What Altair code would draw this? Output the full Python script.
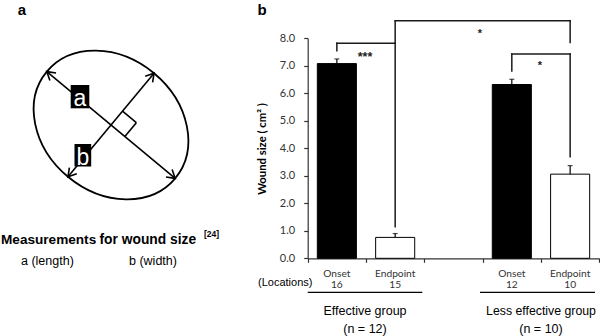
import math
import altair as alt
import pandas as pd

# ---------------- data (panel b) ----------------
categories = ["Onset (E)", "Endpoint (E)", "gap", "Onset (L)", "Endpoint (L)"]
bar_cats = ["Onset (E)", "Endpoint (E)", "Onset (L)", "Endpoint (L)"]
bar_kind = ["Onset", "Endpoint", "Onset", "Endpoint"]
bar_values = [7.08, 0.76, 6.32, 3.06]
bar_errors = [0.17, 0.14, 0.19, 0.31]
locations = ["16", "15", "12", "10"]
y_ticks = [0, 1, 2, 3, 4, 5, 6, 7, 8]

bracket_from = ["Onset (E)", "Endpoint (E)", "Onset (L)"]
bracket_to = ["Endpoint (E)", "Endpoint (L)", "Endpoint (L)"]
bracket_top = [7.82, 8.64, 7.43]
bracket_left_low = [7.55, 7.82, 6.81]
bracket_right_low = [1.15, 7.85, 3.69]
bracket_signif = ["***", "*", "*"]

group_names = ["Effective group", "Less effective group"]
group_n = ["(n = 12)", "(n = 10)"]
y_title = "Wound size ( cm² )"

# ---------------- diagram (panel a) ----------------
ellipse_center = (111, 125)
ellipse_radii = (83.5, 67.3)
ellipse_angle = 39.75
diagram_texts = ["Measurements", "for wound size", "[24]", "a (length)", "b (width)"]

W, H = 600, 336
ARIAL = "Liberation Sans"
CALIBRI = "Lato"

X0, X1 = 307.7, 599.3
Y0, Y1 = 258.3, 38.3

xs = alt.Scale(domain=categories, range=[X0, X1], paddingInner=0, paddingOuter=0)
ys = alt.Scale(domain=[0, 8], range=[Y0, Y1], nice=False, zero=False)

one = alt.Data(values=[{}])


def txt(s, x, y, size, weight="normal", font=ARIAL, align="center",
        baseline="alphabetic", color="black", angle=0):
    return alt.Chart(one).mark_text(
        text=s, font=font, fontSize=size, fontWeight=weight, align=align,
        baseline=baseline, color=color, fill=color, angle=angle, opacity=1
    ).encode(x=alt.value(x), y=alt.value(y))


def seg(x1, y1, x2, y2, width=1.6, color="black"):
    return alt.Chart(one).mark_rule(color=color, strokeWidth=width).encode(
        x=alt.value(x1), y=alt.value(y1), x2=alt.value(x2), y2=alt.value(y2))


# ---------- panel b layers ----------
bars_df = pd.DataFrame({"cat": bar_cats, "kind": bar_kind, "value": bar_values,
                        "err": bar_errors, "loc": locations})
bars_df["top"] = bars_df["value"] + bars_df["err"]

bars = alt.Chart(bars_df).mark_bar(
    width=alt.RelativeBandSize(0.67), stroke="black", strokeWidth=1
).encode(
    x=alt.X("cat:N", scale=xs, axis=alt.Axis(
        orient="bottom", offset=-(H - Y0), title=None, labels=False,
        tickBand="extent", tickSize=4, domainColor="#333", tickColor="#333",
        grid=False, domainWidth=1.2, tickWidth=1.2)),
    y=alt.Y("value:Q", scale=ys, axis=alt.Axis(
        orient="left", offset=-X0, values=y_ticks, format=".1f", title=None,
        tickSize=4, labelPadding=9, grid=False, labelFont=CALIBRI,
        labelFontSize=11, labelColor="#333", domainColor="#333",
        tickColor="#333", domainWidth=1.2, tickWidth=1.2)),
    fill=alt.Fill("kind:N", scale=alt.Scale(domain=["Onset", "Endpoint"],
                                            range=["black", "white"]), legend=None),
)

err_rule = alt.Chart(bars_df).mark_rule(color="black", strokeWidth=1.2).encode(
    x=alt.X("cat:N", scale=xs, axis=None),
    y=alt.Y("value:Q", scale=ys, axis=None),
    y2="top:Q",
)
err_cap = alt.Chart(bars_df).mark_tick(color="black", size=5, thickness=1.2).encode(
    x=alt.X("cat:N", scale=xs, axis=None),
    y=alt.Y("top:Q", scale=ys, axis=None),
)

rows = []
for f, t, top, lo_l, lo_r in zip(bracket_from, bracket_to, bracket_top,
                                 bracket_left_low, bracket_right_low):
    rows.append(dict(xa=f, xb=f, ya=lo_l, yb=top))
    rows.append(dict(xa=f, xb=t, ya=top, yb=top))
    rows.append(dict(xa=t, xb=t, ya=top, yb=lo_r))
brackets = alt.Chart(pd.DataFrame(rows)).mark_rule(
    color="#1a1a1a", strokeWidth=1.5, strokeCap="square"
).encode(
    x=alt.X("xa:N", scale=xs, axis=None), x2="xb",
    y=alt.Y("ya:Q", scale=ys, axis=None), y2="yb",
)

xlab1 = alt.Chart(bars_df).mark_text(
    font=CALIBRI, fontSize=10.2, color="#333", baseline="alphabetic"
).encode(x=alt.X("cat:N", scale=xs, axis=None), y=alt.value(276.5), text="kind:N")
xlab2 = alt.Chart(bars_df).mark_text(
    font=CALIBRI, fontSize=10.2, color="#333", baseline="alphabetic"
).encode(x=alt.X("cat:N", scale=xs, axis=None), y=alt.value(288), text="loc:N")

panel_b = [
    bars, err_rule, err_cap, brackets, xlab1, xlab2,
    txt(bracket_signif[0], 365, 60.5, 12.5, weight="bold", color="#222"),
    txt(bracket_signif[1], 480, 37, 11, weight="bold", color="#222"),
    txt(bracket_signif[2], 540, 68.5, 11, weight="bold", color="#222"),
    txt("(Locations)", 258, 285.5, 11, align="left"),
    seg(307.7, 292.3, 422.3, 292.3, 1.2),
    seg(480, 292.3, 595, 292.3, 1.2),
    txt(group_names[0], 365, 315, 12.5),
    txt(group_n[0], 365, 333, 12.5),
    txt(group_names[1], 541, 315, 12.3),
    txt(group_n[1], 541, 333, 12.5),
    txt(y_title, 263.3, 149, 11.3, weight="bold", font=CALIBRI,
        baseline="middle", angle=270),
    txt("b", 262, 15, 15, weight="bold"),
]

# ---------- panel a layers ----------
cx, cy = ellipse_center
rx, ry = ellipse_radii
th = math.radians(ellipse_angle)
ua = (math.cos(th), math.sin(th))          # along "a" (length)
ub = (math.sin(th), -math.cos(th))         # along "b" (width)
a1 = (cx - rx * ua[0], cy - rx * ua[1])
a2 = (cx + rx * ua[0], cy + rx * ua[1])
b1 = (cx + ry * ub[0], cy + ry * ub[1])
b2 = (cx - ry * ub[0], cy - ry * ub[1])

ell_path = "M -1 0 A 1 {r:.4f} 0 1 1 1 0 A 1 {r:.4f} 0 1 1 -1 0 Z".format(r=ry / rx)
ellipse = alt.Chart(one).mark_point(
    shape=ell_path, size=(2 * rx) ** 2, angle=ellipse_angle, filled=False,
    stroke="black", strokeWidth=1.8, opacity=1
).encode(x=alt.value(cx), y=alt.value(cy))

arrow_path = "M -1 -0.6 L 0 0 L -1 0.6"


def head(p, ang):
    return alt.Chart(one).mark_point(
        shape=arrow_path, size=256, angle=ang % 360, filled=False,
        stroke="black", strokeWidth=1.6, opacity=1
    ).encode(x=alt.value(p[0]), y=alt.value(p[1]))


ang_a = math.degrees(math.atan2(ua[1], ua[0]))
ang_b = math.degrees(math.atan2(ub[1], ub[0]))
L = 18
p1 = (cx + L * ub[0], cy + L * ub[1])
p2 = (p1[0] + L * ua[0], p1[1] + L * ua[1])
p3 = (cx + L * ua[0], cy + L * ua[1])


def box(x1, y1, x2, y2):
    return alt.Chart(one).mark_rect(color="black").encode(
        x=alt.value(x1), y=alt.value(y1), x2=alt.value(x2), y2=alt.value(y2))


panel_a = [
    ellipse,
    seg(a1[0], a1[1], a2[0], a2[1]),
    seg(b1[0], b1[1], b2[0], b2[1]),
    head(a2, ang_a), head(a1, ang_a + 180),
    head(b1, ang_b), head(b2, ang_b + 180),
    seg(p1[0], p1[1], p2[0], p2[1]),
    seg(p2[0], p2[1], p3[0], p3[1]),
    box(70.7, 85, 89.3, 108.3),
    box(74.5, 144, 91.2, 166.5),
    txt("a", 80, 106, 23, color="white"),
    txt("b", 83, 165, 23, color="white"),
    txt("a", 22, 15, 15, weight="bold"),
    txt(diagram_texts[0], 1, 244, 13.6, weight="bold", align="left"),
    txt(diagram_texts[1], 99.5, 244, 13.8, weight="bold", align="left"),
    txt(diagram_texts[2], 204, 236.5, 8.5, weight="bold", align="left"),
    txt(diagram_texts[3], 21, 265, 12.5, align="left"),
    txt(diagram_texts[4], 129, 265, 12.5, align="left"),
]

chart = alt.layer(*panel_b, *panel_a).resolve_scale(
    x="independent", y="independent"
).properties(
    width=W, height=H, padding=0, autosize=alt.AutoSizeParams(type="none"),
    background="white"
).configure_view(stroke=None)

chart.save("out.html", embed_options={"renderer": "svg", "actions": False})
